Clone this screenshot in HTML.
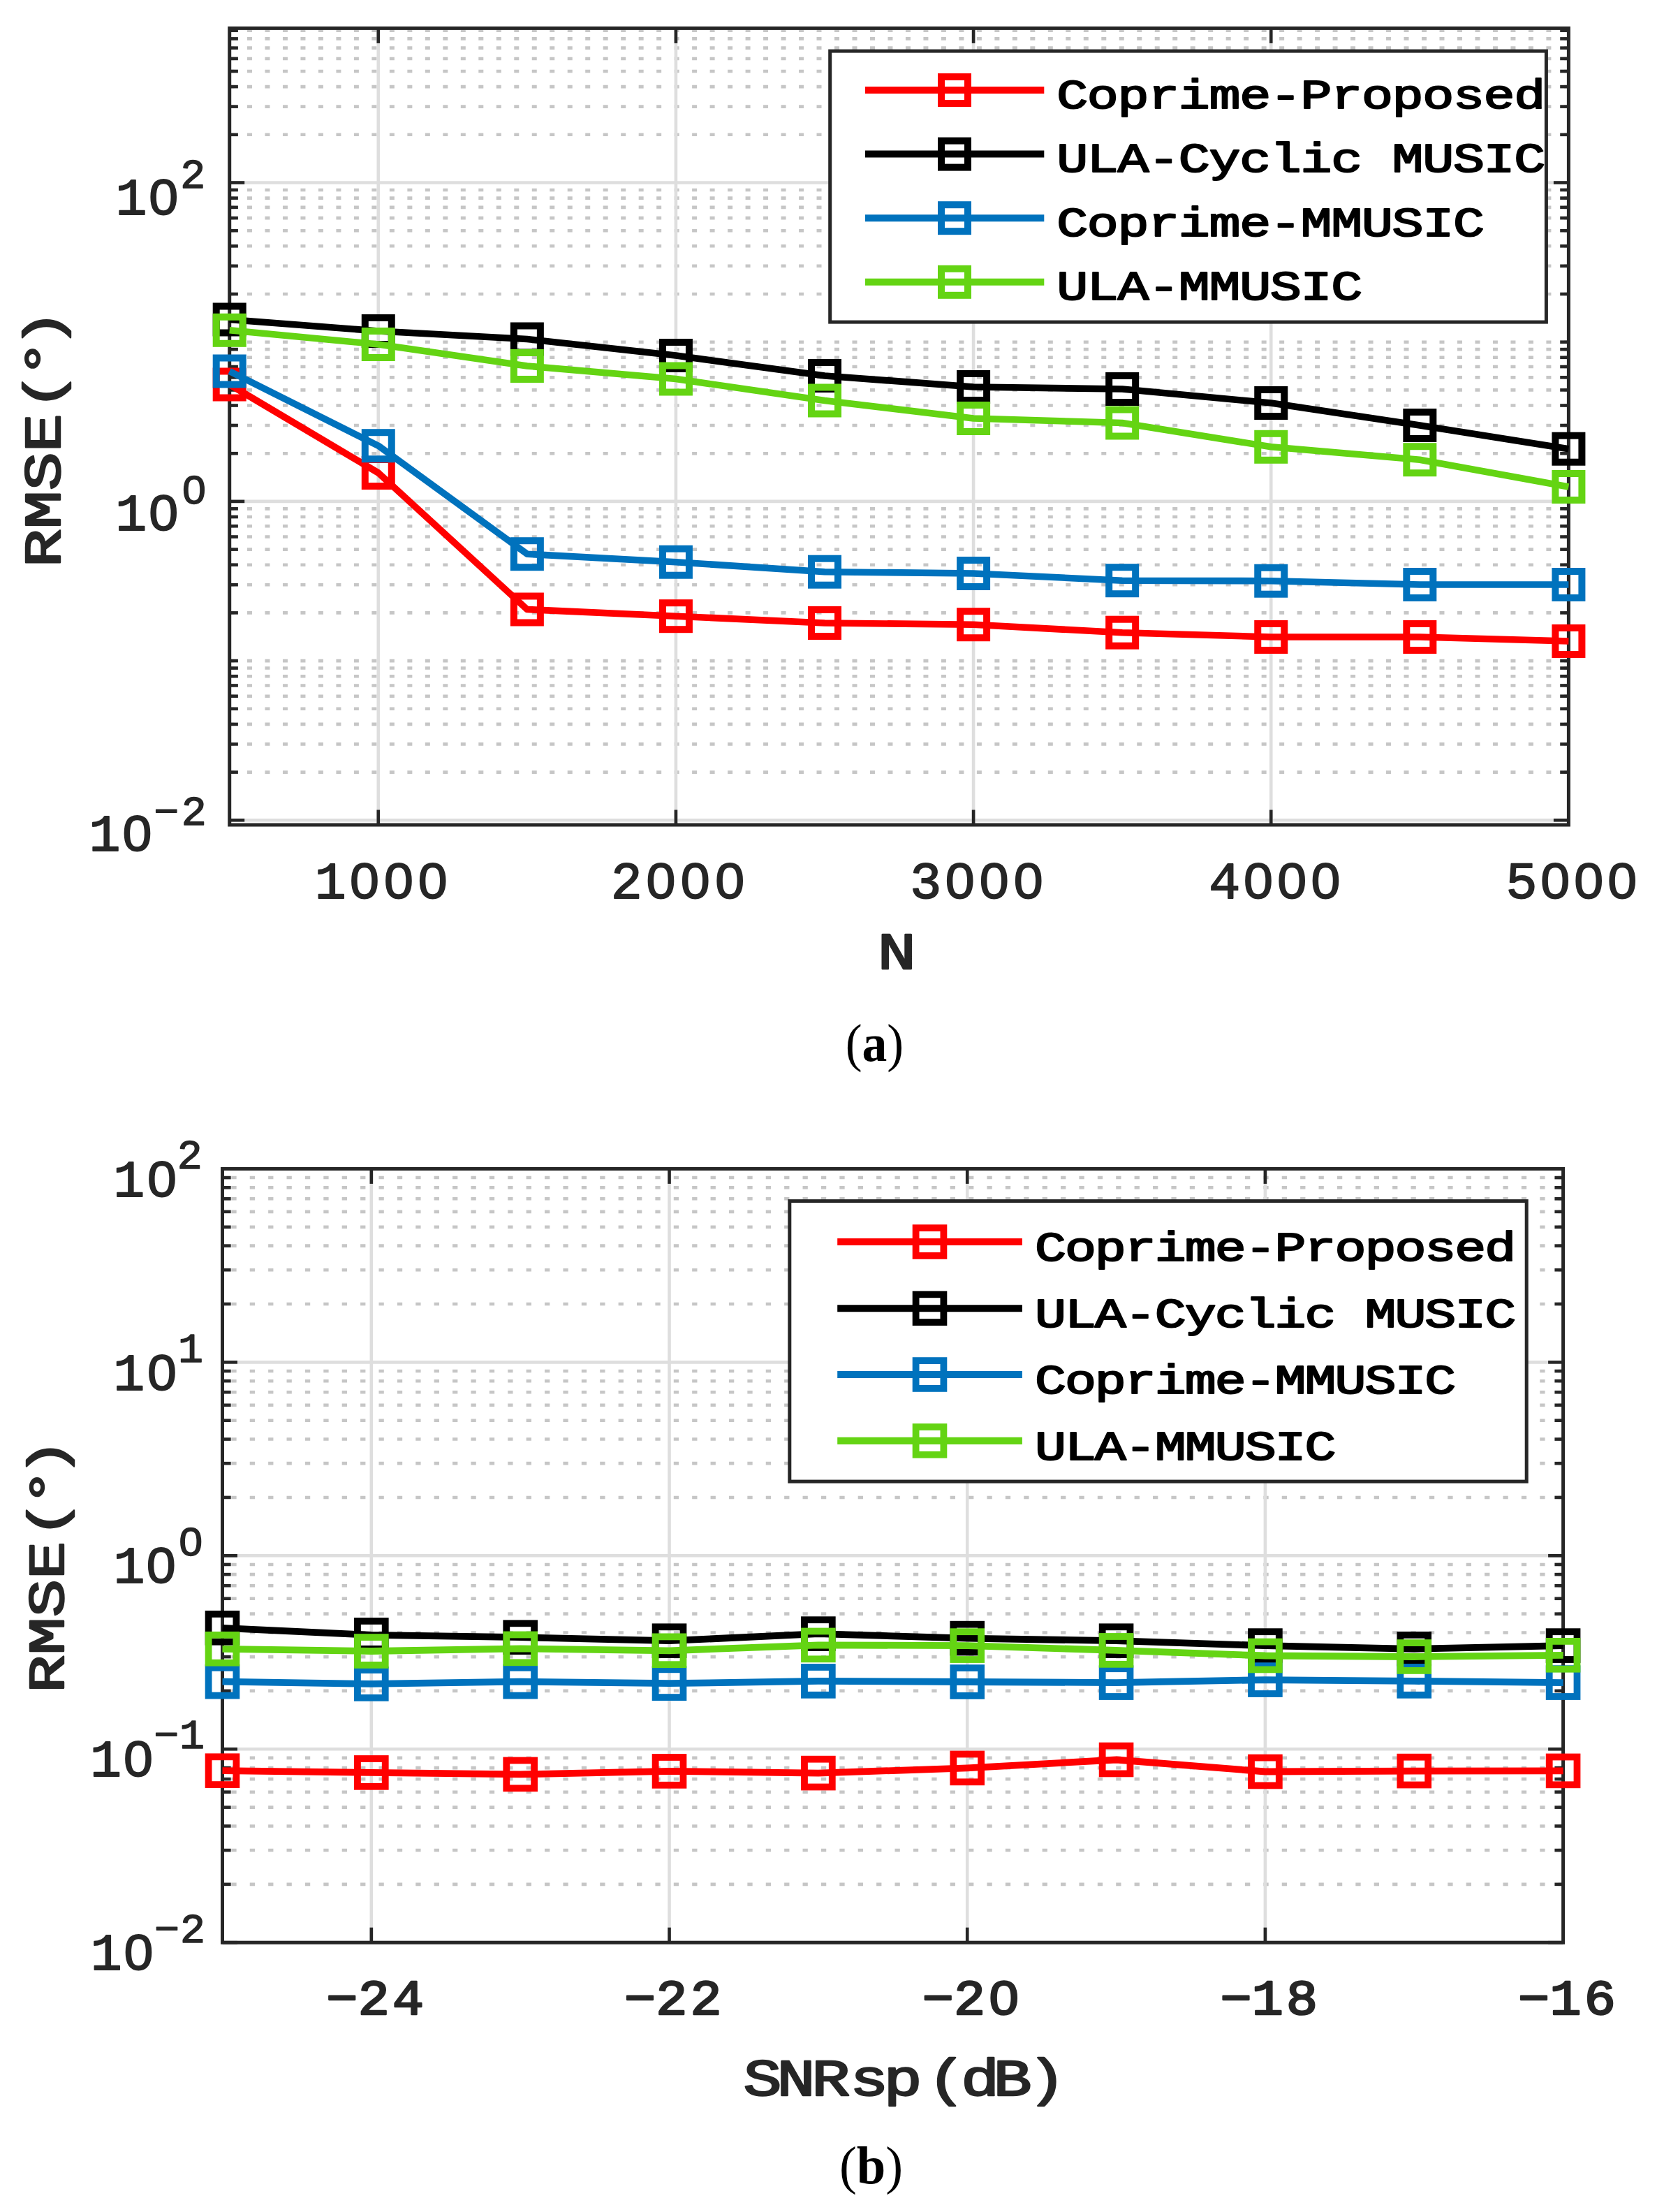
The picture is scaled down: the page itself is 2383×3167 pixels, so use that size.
<!DOCTYPE html>
<html lang="en"><head><meta charset="utf-8"><title>RMSE versus N and SNRsp</title>
<style>html,body{margin:0;padding:0;background:#fff}svg{display:block}text{white-space:pre}</style></head><body>
<svg width="2383" height="3167" viewBox="0 0 2383 3167">
<rect width="2383" height="3167" fill="#fff"/>
<g stroke="#c6c6c6" stroke-width="4.6" stroke-dasharray="7 18.485" fill="none">
<line x1="328.51" y1="1105.6" x2="2246.4" y2="1105.6"/>
<line x1="328.51" y1="1065.42" x2="2246.4" y2="1065.42"/>
<line x1="328.51" y1="1036.91" x2="2246.4" y2="1036.91"/>
<line x1="328.51" y1="1014.8" x2="2246.4" y2="1014.8"/>
<line x1="328.51" y1="996.73" x2="2246.4" y2="996.73"/>
<line x1="328.51" y1="981.45" x2="2246.4" y2="981.45"/>
<line x1="328.51" y1="968.21" x2="2246.4" y2="968.21"/>
<line x1="328.51" y1="956.54" x2="2246.4" y2="956.54"/>
<line x1="328.51" y1="946.1" x2="2246.4" y2="946.1"/>
<line x1="328.51" y1="877.4" x2="2246.4" y2="877.4"/>
<line x1="328.51" y1="837.22" x2="2246.4" y2="837.22"/>
<line x1="328.51" y1="808.71" x2="2246.4" y2="808.71"/>
<line x1="328.51" y1="786.6" x2="2246.4" y2="786.6"/>
<line x1="328.51" y1="768.53" x2="2246.4" y2="768.53"/>
<line x1="328.51" y1="753.25" x2="2246.4" y2="753.25"/>
<line x1="328.51" y1="740.01" x2="2246.4" y2="740.01"/>
<line x1="328.51" y1="728.34" x2="2246.4" y2="728.34"/>
<line x1="328.51" y1="649.2" x2="2246.4" y2="649.2"/>
<line x1="328.51" y1="609.02" x2="2246.4" y2="609.02"/>
<line x1="328.51" y1="580.51" x2="2246.4" y2="580.51"/>
<line x1="328.51" y1="558.4" x2="2246.4" y2="558.4"/>
<line x1="328.51" y1="540.33" x2="2246.4" y2="540.33"/>
<line x1="328.51" y1="525.05" x2="2246.4" y2="525.05"/>
<line x1="328.51" y1="511.81" x2="2246.4" y2="511.81"/>
<line x1="328.51" y1="500.14" x2="2246.4" y2="500.14"/>
<line x1="328.51" y1="489.7" x2="2246.4" y2="489.7"/>
<line x1="328.51" y1="421" x2="2246.4" y2="421"/>
<line x1="328.51" y1="380.82" x2="2246.4" y2="380.82"/>
<line x1="328.51" y1="352.31" x2="2246.4" y2="352.31"/>
<line x1="328.51" y1="330.2" x2="2246.4" y2="330.2"/>
<line x1="328.51" y1="312.13" x2="2246.4" y2="312.13"/>
<line x1="328.51" y1="296.85" x2="2246.4" y2="296.85"/>
<line x1="328.51" y1="283.61" x2="2246.4" y2="283.61"/>
<line x1="328.51" y1="271.94" x2="2246.4" y2="271.94"/>
<line x1="328.51" y1="192.8" x2="2246.4" y2="192.8"/>
<line x1="328.51" y1="152.62" x2="2246.4" y2="152.62"/>
<line x1="328.51" y1="124.11" x2="2246.4" y2="124.11"/>
<line x1="328.51" y1="102" x2="2246.4" y2="102"/>
<line x1="328.51" y1="83.93" x2="2246.4" y2="83.93"/>
<line x1="328.51" y1="68.65" x2="2246.4" y2="68.65"/>
<line x1="328.51" y1="55.41" x2="2246.4" y2="55.41"/>
<line x1="328.51" y1="43.74" x2="2246.4" y2="43.74"/>
</g>
<g stroke="#dedede" stroke-width="4.6" fill="none">
<line x1="541.78" y1="40.4" x2="541.78" y2="1181"/>
<line x1="967.93" y1="40.4" x2="967.93" y2="1181"/>
<line x1="1394.09" y1="40.4" x2="1394.09" y2="1181"/>
<line x1="1820.24" y1="40.4" x2="1820.24" y2="1181"/>
<line x1="328.7" y1="1174.3" x2="2246.4" y2="1174.3"/>
<line x1="328.7" y1="717.9" x2="2246.4" y2="717.9"/>
<line x1="328.7" y1="261.5" x2="2246.4" y2="261.5"/>
</g>
<g stroke="#262626" stroke-width="4.6" fill="none">
<line x1="328.7" y1="1105.6" x2="340.9" y2="1105.6"/>
<line x1="2246.4" y1="1105.6" x2="2234.2" y2="1105.6"/>
<line x1="328.7" y1="1065.42" x2="340.9" y2="1065.42"/>
<line x1="2246.4" y1="1065.42" x2="2234.2" y2="1065.42"/>
<line x1="328.7" y1="1036.91" x2="340.9" y2="1036.91"/>
<line x1="2246.4" y1="1036.91" x2="2234.2" y2="1036.91"/>
<line x1="328.7" y1="1014.8" x2="340.9" y2="1014.8"/>
<line x1="2246.4" y1="1014.8" x2="2234.2" y2="1014.8"/>
<line x1="328.7" y1="996.73" x2="340.9" y2="996.73"/>
<line x1="2246.4" y1="996.73" x2="2234.2" y2="996.73"/>
<line x1="328.7" y1="981.45" x2="340.9" y2="981.45"/>
<line x1="2246.4" y1="981.45" x2="2234.2" y2="981.45"/>
<line x1="328.7" y1="968.21" x2="340.9" y2="968.21"/>
<line x1="2246.4" y1="968.21" x2="2234.2" y2="968.21"/>
<line x1="328.7" y1="956.54" x2="340.9" y2="956.54"/>
<line x1="2246.4" y1="956.54" x2="2234.2" y2="956.54"/>
<line x1="328.7" y1="946.1" x2="340.9" y2="946.1"/>
<line x1="2246.4" y1="946.1" x2="2234.2" y2="946.1"/>
<line x1="328.7" y1="877.4" x2="340.9" y2="877.4"/>
<line x1="2246.4" y1="877.4" x2="2234.2" y2="877.4"/>
<line x1="328.7" y1="837.22" x2="340.9" y2="837.22"/>
<line x1="2246.4" y1="837.22" x2="2234.2" y2="837.22"/>
<line x1="328.7" y1="808.71" x2="340.9" y2="808.71"/>
<line x1="2246.4" y1="808.71" x2="2234.2" y2="808.71"/>
<line x1="328.7" y1="786.6" x2="340.9" y2="786.6"/>
<line x1="2246.4" y1="786.6" x2="2234.2" y2="786.6"/>
<line x1="328.7" y1="768.53" x2="340.9" y2="768.53"/>
<line x1="2246.4" y1="768.53" x2="2234.2" y2="768.53"/>
<line x1="328.7" y1="753.25" x2="340.9" y2="753.25"/>
<line x1="2246.4" y1="753.25" x2="2234.2" y2="753.25"/>
<line x1="328.7" y1="740.01" x2="340.9" y2="740.01"/>
<line x1="2246.4" y1="740.01" x2="2234.2" y2="740.01"/>
<line x1="328.7" y1="728.34" x2="340.9" y2="728.34"/>
<line x1="2246.4" y1="728.34" x2="2234.2" y2="728.34"/>
<line x1="328.7" y1="649.2" x2="340.9" y2="649.2"/>
<line x1="2246.4" y1="649.2" x2="2234.2" y2="649.2"/>
<line x1="328.7" y1="609.02" x2="340.9" y2="609.02"/>
<line x1="2246.4" y1="609.02" x2="2234.2" y2="609.02"/>
<line x1="328.7" y1="580.51" x2="340.9" y2="580.51"/>
<line x1="2246.4" y1="580.51" x2="2234.2" y2="580.51"/>
<line x1="328.7" y1="558.4" x2="340.9" y2="558.4"/>
<line x1="2246.4" y1="558.4" x2="2234.2" y2="558.4"/>
<line x1="328.7" y1="540.33" x2="340.9" y2="540.33"/>
<line x1="2246.4" y1="540.33" x2="2234.2" y2="540.33"/>
<line x1="328.7" y1="525.05" x2="340.9" y2="525.05"/>
<line x1="2246.4" y1="525.05" x2="2234.2" y2="525.05"/>
<line x1="328.7" y1="511.81" x2="340.9" y2="511.81"/>
<line x1="2246.4" y1="511.81" x2="2234.2" y2="511.81"/>
<line x1="328.7" y1="500.14" x2="340.9" y2="500.14"/>
<line x1="2246.4" y1="500.14" x2="2234.2" y2="500.14"/>
<line x1="328.7" y1="489.7" x2="340.9" y2="489.7"/>
<line x1="2246.4" y1="489.7" x2="2234.2" y2="489.7"/>
<line x1="328.7" y1="421" x2="340.9" y2="421"/>
<line x1="2246.4" y1="421" x2="2234.2" y2="421"/>
<line x1="328.7" y1="380.82" x2="340.9" y2="380.82"/>
<line x1="2246.4" y1="380.82" x2="2234.2" y2="380.82"/>
<line x1="328.7" y1="352.31" x2="340.9" y2="352.31"/>
<line x1="2246.4" y1="352.31" x2="2234.2" y2="352.31"/>
<line x1="328.7" y1="330.2" x2="340.9" y2="330.2"/>
<line x1="2246.4" y1="330.2" x2="2234.2" y2="330.2"/>
<line x1="328.7" y1="312.13" x2="340.9" y2="312.13"/>
<line x1="2246.4" y1="312.13" x2="2234.2" y2="312.13"/>
<line x1="328.7" y1="296.85" x2="340.9" y2="296.85"/>
<line x1="2246.4" y1="296.85" x2="2234.2" y2="296.85"/>
<line x1="328.7" y1="283.61" x2="340.9" y2="283.61"/>
<line x1="2246.4" y1="283.61" x2="2234.2" y2="283.61"/>
<line x1="328.7" y1="271.94" x2="340.9" y2="271.94"/>
<line x1="2246.4" y1="271.94" x2="2234.2" y2="271.94"/>
<line x1="328.7" y1="192.8" x2="340.9" y2="192.8"/>
<line x1="2246.4" y1="192.8" x2="2234.2" y2="192.8"/>
<line x1="328.7" y1="152.62" x2="340.9" y2="152.62"/>
<line x1="2246.4" y1="152.62" x2="2234.2" y2="152.62"/>
<line x1="328.7" y1="124.11" x2="340.9" y2="124.11"/>
<line x1="2246.4" y1="124.11" x2="2234.2" y2="124.11"/>
<line x1="328.7" y1="102" x2="340.9" y2="102"/>
<line x1="2246.4" y1="102" x2="2234.2" y2="102"/>
<line x1="328.7" y1="83.93" x2="340.9" y2="83.93"/>
<line x1="2246.4" y1="83.93" x2="2234.2" y2="83.93"/>
<line x1="328.7" y1="68.65" x2="340.9" y2="68.65"/>
<line x1="2246.4" y1="68.65" x2="2234.2" y2="68.65"/>
<line x1="328.7" y1="55.41" x2="340.9" y2="55.41"/>
<line x1="2246.4" y1="55.41" x2="2234.2" y2="55.41"/>
<line x1="328.7" y1="43.74" x2="340.9" y2="43.74"/>
<line x1="2246.4" y1="43.74" x2="2234.2" y2="43.74"/>
<line x1="328.7" y1="1174.3" x2="350.2" y2="1174.3"/>
<line x1="2246.4" y1="1174.3" x2="2224.9" y2="1174.3"/>
<line x1="328.7" y1="717.9" x2="350.2" y2="717.9"/>
<line x1="2246.4" y1="717.9" x2="2224.9" y2="717.9"/>
<line x1="328.7" y1="261.5" x2="350.2" y2="261.5"/>
<line x1="2246.4" y1="261.5" x2="2224.9" y2="261.5"/>
<line x1="541.78" y1="1181" x2="541.78" y2="1159.5"/>
<line x1="541.78" y1="40.4" x2="541.78" y2="61.9"/>
<line x1="967.93" y1="1181" x2="967.93" y2="1159.5"/>
<line x1="967.93" y1="40.4" x2="967.93" y2="61.9"/>
<line x1="1394.09" y1="1181" x2="1394.09" y2="1159.5"/>
<line x1="1394.09" y1="40.4" x2="1394.09" y2="61.9"/>
<line x1="1820.24" y1="1181" x2="1820.24" y2="1159.5"/>
<line x1="1820.24" y1="40.4" x2="1820.24" y2="61.9"/>
</g>
<rect x="328.7" y="40.4" width="1917.7" height="1140.6" fill="none" stroke="#262626" stroke-width="5"/>
<polyline points="328.7,550.5 541.78,677 754.86,872.5 967.93,882.2 1181.01,892 1394.09,894.2 1607.17,905.7 1820.24,912 2033.32,912 2246.4,918" fill="none" stroke="#ff0000" stroke-width="9.6" stroke-linejoin="round"/>
<g fill="none" stroke="#ff0000" stroke-width="10">
<rect x="309.7" y="531.5" width="38" height="38"/>
<rect x="522.78" y="658" width="38" height="38"/>
<rect x="735.86" y="853.5" width="38" height="38"/>
<rect x="948.93" y="863.2" width="38" height="38"/>
<rect x="1162.01" y="873" width="38" height="38"/>
<rect x="1375.09" y="875.2" width="38" height="38"/>
<rect x="1588.17" y="886.7" width="38" height="38"/>
<rect x="1801.24" y="893" width="38" height="38"/>
<rect x="2014.32" y="893" width="38" height="38"/>
<rect x="2227.4" y="899" width="38" height="38"/>
</g>
<polyline points="328.7,457.5 541.78,474 754.86,485.5 967.93,509 1181.01,538 1394.09,554 1607.17,557 1820.24,577 2033.32,609 2246.4,642.7" fill="none" stroke="#000000" stroke-width="9.6" stroke-linejoin="round"/>
<g fill="none" stroke="#000000" stroke-width="10">
<rect x="309.7" y="438.5" width="38" height="38"/>
<rect x="522.78" y="455" width="38" height="38"/>
<rect x="735.86" y="466.5" width="38" height="38"/>
<rect x="948.93" y="490" width="38" height="38"/>
<rect x="1162.01" y="519" width="38" height="38"/>
<rect x="1375.09" y="535" width="38" height="38"/>
<rect x="1588.17" y="538" width="38" height="38"/>
<rect x="1801.24" y="558" width="38" height="38"/>
<rect x="2014.32" y="590" width="38" height="38"/>
<rect x="2227.4" y="623.7" width="38" height="38"/>
</g>
<polyline points="328.7,531.5 541.78,638.2 754.86,793.2 967.93,804.7 1181.01,818.7 1394.09,821 1607.17,831.2 1820.24,831.7 2033.32,837 2246.4,837" fill="none" stroke="#0072bd" stroke-width="9.6" stroke-linejoin="round"/>
<g fill="none" stroke="#0072bd" stroke-width="10">
<rect x="309.7" y="512.5" width="38" height="38"/>
<rect x="522.78" y="619.2" width="38" height="38"/>
<rect x="735.86" y="774.2" width="38" height="38"/>
<rect x="948.93" y="785.7" width="38" height="38"/>
<rect x="1162.01" y="799.7" width="38" height="38"/>
<rect x="1375.09" y="802" width="38" height="38"/>
<rect x="1588.17" y="812.2" width="38" height="38"/>
<rect x="1801.24" y="812.7" width="38" height="38"/>
<rect x="2014.32" y="818" width="38" height="38"/>
<rect x="2227.4" y="818" width="38" height="38"/>
</g>
<polyline points="328.7,472.8 541.78,493 754.86,524 967.93,542.5 1181.01,573.5 1394.09,599 1607.17,605.5 1820.24,639.8 2033.32,658.2 2246.4,697" fill="none" stroke="#64d413" stroke-width="9.6" stroke-linejoin="round"/>
<g fill="none" stroke="#64d413" stroke-width="10">
<rect x="309.7" y="453.8" width="38" height="38"/>
<rect x="522.78" y="474" width="38" height="38"/>
<rect x="735.86" y="505" width="38" height="38"/>
<rect x="948.93" y="523.5" width="38" height="38"/>
<rect x="1162.01" y="554.5" width="38" height="38"/>
<rect x="1375.09" y="580" width="38" height="38"/>
<rect x="1588.17" y="586.5" width="38" height="38"/>
<rect x="1801.24" y="620.8" width="38" height="38"/>
<rect x="2014.32" y="639.2" width="38" height="38"/>
<rect x="2227.4" y="678" width="38" height="38"/>
</g>
<rect x="1188.7" y="73.1" width="1025.7" height="388" fill="#fff" stroke="#262626" stroke-width="5"/>
<line x1="1238.9" y1="129" x2="1495.3" y2="129" stroke="#ff0000" stroke-width="10" />
<rect x="1348" y="110" width="38" height="38" fill="none" stroke="#ff0000" stroke-width="10"/>
<g transform="translate(1513.16 154.6) scale(1 0.79)"><text style="font-family:'Liberation Mono',monospace;font-size:75px;fill:#000;letter-spacing:-1.33px;stroke:#000;stroke-width:2.6;stroke-linejoin:round;" xml:space="preserve">Coprime-Proposed</text>
</g>
<line x1="1238.9" y1="220.6" x2="1495.3" y2="220.6" stroke="#000000" stroke-width="10" />
<rect x="1348" y="201.6" width="38" height="38" fill="none" stroke="#000000" stroke-width="10"/>
<g transform="translate(1513.16 246.2) scale(1 0.79)"><text style="font-family:'Liberation Mono',monospace;font-size:75px;fill:#000;letter-spacing:-1.33px;stroke:#000;stroke-width:2.6;stroke-linejoin:round;" xml:space="preserve">ULA-Cyclic MUSIC</text>
</g>
<line x1="1238.9" y1="312.2" x2="1495.3" y2="312.2" stroke="#0072bd" stroke-width="10" />
<rect x="1348" y="293.2" width="38" height="38" fill="none" stroke="#0072bd" stroke-width="10"/>
<g transform="translate(1513.16 337.8) scale(1 0.79)"><text style="font-family:'Liberation Mono',monospace;font-size:75px;fill:#000;letter-spacing:-1.33px;stroke:#000;stroke-width:2.6;stroke-linejoin:round;" xml:space="preserve">Coprime-MMUSIC</text>
</g>
<line x1="1238.9" y1="403.8" x2="1495.3" y2="403.8" stroke="#64d413" stroke-width="10" />
<rect x="1348" y="384.8" width="38" height="38" fill="none" stroke="#64d413" stroke-width="10"/>
<g transform="translate(1513.16 429.4) scale(1 0.79)"><text style="font-family:'Liberation Mono',monospace;font-size:75px;fill:#000;letter-spacing:-1.33px;stroke:#000;stroke-width:2.6;stroke-linejoin:round;" xml:space="preserve">ULA-MMUSIC</text>
</g>
<g stroke="#c6c6c6" stroke-width="4.6" stroke-dasharray="7.3 19.093" fill="none">
<line x1="331.35" y1="2697.83" x2="2238.6" y2="2697.83"/>
<line x1="331.35" y1="2649.06" x2="2238.6" y2="2649.06"/>
<line x1="331.35" y1="2614.46" x2="2238.6" y2="2614.46"/>
<line x1="331.35" y1="2587.62" x2="2238.6" y2="2587.62"/>
<line x1="331.35" y1="2565.69" x2="2238.6" y2="2565.69"/>
<line x1="331.35" y1="2547.15" x2="2238.6" y2="2547.15"/>
<line x1="331.35" y1="2531.09" x2="2238.6" y2="2531.09"/>
<line x1="331.35" y1="2516.92" x2="2238.6" y2="2516.92"/>
<line x1="331.35" y1="2420.88" x2="2238.6" y2="2420.88"/>
<line x1="331.35" y1="2372.11" x2="2238.6" y2="2372.11"/>
<line x1="331.35" y1="2337.51" x2="2238.6" y2="2337.51"/>
<line x1="331.35" y1="2310.67" x2="2238.6" y2="2310.67"/>
<line x1="331.35" y1="2288.74" x2="2238.6" y2="2288.74"/>
<line x1="331.35" y1="2270.2" x2="2238.6" y2="2270.2"/>
<line x1="331.35" y1="2254.14" x2="2238.6" y2="2254.14"/>
<line x1="331.35" y1="2239.97" x2="2238.6" y2="2239.97"/>
<line x1="331.35" y1="2143.93" x2="2238.6" y2="2143.93"/>
<line x1="331.35" y1="2095.16" x2="2238.6" y2="2095.16"/>
<line x1="331.35" y1="2060.56" x2="2238.6" y2="2060.56"/>
<line x1="331.35" y1="2033.72" x2="2238.6" y2="2033.72"/>
<line x1="331.35" y1="2011.79" x2="2238.6" y2="2011.79"/>
<line x1="331.35" y1="1993.25" x2="2238.6" y2="1993.25"/>
<line x1="331.35" y1="1977.19" x2="2238.6" y2="1977.19"/>
<line x1="331.35" y1="1963.02" x2="2238.6" y2="1963.02"/>
<line x1="331.35" y1="1866.98" x2="2238.6" y2="1866.98"/>
<line x1="331.35" y1="1818.21" x2="2238.6" y2="1818.21"/>
<line x1="331.35" y1="1783.61" x2="2238.6" y2="1783.61"/>
<line x1="331.35" y1="1756.77" x2="2238.6" y2="1756.77"/>
<line x1="331.35" y1="1734.84" x2="2238.6" y2="1734.84"/>
<line x1="331.35" y1="1716.3" x2="2238.6" y2="1716.3"/>
<line x1="331.35" y1="1700.24" x2="2238.6" y2="1700.24"/>
<line x1="331.35" y1="1686.07" x2="2238.6" y2="1686.07"/>
</g>
<g stroke="#dedede" stroke-width="4.6" fill="none">
<line x1="531.84" y1="1673.4" x2="531.84" y2="2781.2"/>
<line x1="958.53" y1="1673.4" x2="958.53" y2="2781.2"/>
<line x1="1385.22" y1="1673.4" x2="1385.22" y2="2781.2"/>
<line x1="1811.91" y1="1673.4" x2="1811.91" y2="2781.2"/>
<line x1="318.5" y1="2781.2" x2="2238.6" y2="2781.2"/>
<line x1="318.5" y1="2504.25" x2="2238.6" y2="2504.25"/>
<line x1="318.5" y1="2227.3" x2="2238.6" y2="2227.3"/>
<line x1="318.5" y1="1950.35" x2="2238.6" y2="1950.35"/>
</g>
<g stroke="#262626" stroke-width="4.6" fill="none">
<line x1="318.5" y1="2697.83" x2="330.7" y2="2697.83"/>
<line x1="2238.6" y1="2697.83" x2="2226.4" y2="2697.83"/>
<line x1="318.5" y1="2649.06" x2="330.7" y2="2649.06"/>
<line x1="2238.6" y1="2649.06" x2="2226.4" y2="2649.06"/>
<line x1="318.5" y1="2614.46" x2="330.7" y2="2614.46"/>
<line x1="2238.6" y1="2614.46" x2="2226.4" y2="2614.46"/>
<line x1="318.5" y1="2587.62" x2="330.7" y2="2587.62"/>
<line x1="2238.6" y1="2587.62" x2="2226.4" y2="2587.62"/>
<line x1="318.5" y1="2565.69" x2="330.7" y2="2565.69"/>
<line x1="2238.6" y1="2565.69" x2="2226.4" y2="2565.69"/>
<line x1="318.5" y1="2547.15" x2="330.7" y2="2547.15"/>
<line x1="2238.6" y1="2547.15" x2="2226.4" y2="2547.15"/>
<line x1="318.5" y1="2531.09" x2="330.7" y2="2531.09"/>
<line x1="2238.6" y1="2531.09" x2="2226.4" y2="2531.09"/>
<line x1="318.5" y1="2516.92" x2="330.7" y2="2516.92"/>
<line x1="2238.6" y1="2516.92" x2="2226.4" y2="2516.92"/>
<line x1="318.5" y1="2420.88" x2="330.7" y2="2420.88"/>
<line x1="2238.6" y1="2420.88" x2="2226.4" y2="2420.88"/>
<line x1="318.5" y1="2372.11" x2="330.7" y2="2372.11"/>
<line x1="2238.6" y1="2372.11" x2="2226.4" y2="2372.11"/>
<line x1="318.5" y1="2337.51" x2="330.7" y2="2337.51"/>
<line x1="2238.6" y1="2337.51" x2="2226.4" y2="2337.51"/>
<line x1="318.5" y1="2310.67" x2="330.7" y2="2310.67"/>
<line x1="2238.6" y1="2310.67" x2="2226.4" y2="2310.67"/>
<line x1="318.5" y1="2288.74" x2="330.7" y2="2288.74"/>
<line x1="2238.6" y1="2288.74" x2="2226.4" y2="2288.74"/>
<line x1="318.5" y1="2270.2" x2="330.7" y2="2270.2"/>
<line x1="2238.6" y1="2270.2" x2="2226.4" y2="2270.2"/>
<line x1="318.5" y1="2254.14" x2="330.7" y2="2254.14"/>
<line x1="2238.6" y1="2254.14" x2="2226.4" y2="2254.14"/>
<line x1="318.5" y1="2239.97" x2="330.7" y2="2239.97"/>
<line x1="2238.6" y1="2239.97" x2="2226.4" y2="2239.97"/>
<line x1="318.5" y1="2143.93" x2="330.7" y2="2143.93"/>
<line x1="2238.6" y1="2143.93" x2="2226.4" y2="2143.93"/>
<line x1="318.5" y1="2095.16" x2="330.7" y2="2095.16"/>
<line x1="2238.6" y1="2095.16" x2="2226.4" y2="2095.16"/>
<line x1="318.5" y1="2060.56" x2="330.7" y2="2060.56"/>
<line x1="2238.6" y1="2060.56" x2="2226.4" y2="2060.56"/>
<line x1="318.5" y1="2033.72" x2="330.7" y2="2033.72"/>
<line x1="2238.6" y1="2033.72" x2="2226.4" y2="2033.72"/>
<line x1="318.5" y1="2011.79" x2="330.7" y2="2011.79"/>
<line x1="2238.6" y1="2011.79" x2="2226.4" y2="2011.79"/>
<line x1="318.5" y1="1993.25" x2="330.7" y2="1993.25"/>
<line x1="2238.6" y1="1993.25" x2="2226.4" y2="1993.25"/>
<line x1="318.5" y1="1977.19" x2="330.7" y2="1977.19"/>
<line x1="2238.6" y1="1977.19" x2="2226.4" y2="1977.19"/>
<line x1="318.5" y1="1963.02" x2="330.7" y2="1963.02"/>
<line x1="2238.6" y1="1963.02" x2="2226.4" y2="1963.02"/>
<line x1="318.5" y1="1866.98" x2="330.7" y2="1866.98"/>
<line x1="2238.6" y1="1866.98" x2="2226.4" y2="1866.98"/>
<line x1="318.5" y1="1818.21" x2="330.7" y2="1818.21"/>
<line x1="2238.6" y1="1818.21" x2="2226.4" y2="1818.21"/>
<line x1="318.5" y1="1783.61" x2="330.7" y2="1783.61"/>
<line x1="2238.6" y1="1783.61" x2="2226.4" y2="1783.61"/>
<line x1="318.5" y1="1756.77" x2="330.7" y2="1756.77"/>
<line x1="2238.6" y1="1756.77" x2="2226.4" y2="1756.77"/>
<line x1="318.5" y1="1734.84" x2="330.7" y2="1734.84"/>
<line x1="2238.6" y1="1734.84" x2="2226.4" y2="1734.84"/>
<line x1="318.5" y1="1716.3" x2="330.7" y2="1716.3"/>
<line x1="2238.6" y1="1716.3" x2="2226.4" y2="1716.3"/>
<line x1="318.5" y1="1700.24" x2="330.7" y2="1700.24"/>
<line x1="2238.6" y1="1700.24" x2="2226.4" y2="1700.24"/>
<line x1="318.5" y1="1686.07" x2="330.7" y2="1686.07"/>
<line x1="2238.6" y1="1686.07" x2="2226.4" y2="1686.07"/>
<line x1="318.5" y1="2781.2" x2="340" y2="2781.2"/>
<line x1="2238.6" y1="2781.2" x2="2217.1" y2="2781.2"/>
<line x1="318.5" y1="2504.25" x2="340" y2="2504.25"/>
<line x1="2238.6" y1="2504.25" x2="2217.1" y2="2504.25"/>
<line x1="318.5" y1="2227.3" x2="340" y2="2227.3"/>
<line x1="2238.6" y1="2227.3" x2="2217.1" y2="2227.3"/>
<line x1="318.5" y1="1950.35" x2="340" y2="1950.35"/>
<line x1="2238.6" y1="1950.35" x2="2217.1" y2="1950.35"/>
<line x1="531.84" y1="2781.2" x2="531.84" y2="2759.7"/>
<line x1="531.84" y1="1673.4" x2="531.84" y2="1694.9"/>
<line x1="958.53" y1="2781.2" x2="958.53" y2="2759.7"/>
<line x1="958.53" y1="1673.4" x2="958.53" y2="1694.9"/>
<line x1="1385.22" y1="2781.2" x2="1385.22" y2="2759.7"/>
<line x1="1385.22" y1="1673.4" x2="1385.22" y2="1694.9"/>
<line x1="1811.91" y1="2781.2" x2="1811.91" y2="2759.7"/>
<line x1="1811.91" y1="1673.4" x2="1811.91" y2="1694.9"/>
</g>
<rect x="318.5" y="1673.4" width="1920.1" height="1107.8" fill="none" stroke="#262626" stroke-width="5"/>
<polyline points="318.5,2535.2 531.84,2537.9 745.19,2540.4 958.53,2535.9 1171.88,2538.6 1385.22,2531.4 1598.57,2519.5 1811.91,2536.5 2025.26,2535.6 2238.6,2535.4" fill="none" stroke="#ff0000" stroke-width="9.8" stroke-linejoin="round"/>
<g fill="none" stroke="#ff0000" stroke-width="9.8">
<rect x="298.6" y="2515.3" width="39.8" height="39.8"/>
<rect x="511.94" y="2518" width="39.8" height="39.8"/>
<rect x="725.29" y="2520.5" width="39.8" height="39.8"/>
<rect x="938.63" y="2516" width="39.8" height="39.8"/>
<rect x="1151.98" y="2518.7" width="39.8" height="39.8"/>
<rect x="1365.32" y="2511.5" width="39.8" height="39.8"/>
<rect x="1578.67" y="2499.6" width="39.8" height="39.8"/>
<rect x="1792.01" y="2516.6" width="39.8" height="39.8"/>
<rect x="2005.36" y="2515.7" width="39.8" height="39.8"/>
<rect x="2218.7" y="2515.5" width="39.8" height="39.8"/>
</g>
<polyline points="318.5,2330.8 531.84,2340.9 745.19,2344.2 958.53,2349.2 1171.88,2339.1 1385.22,2345.6 1598.57,2349.2 1811.91,2356.1 2025.26,2360.8 2238.6,2356.1" fill="none" stroke="#000000" stroke-width="9.8" stroke-linejoin="round"/>
<g fill="none" stroke="#000000" stroke-width="9.8">
<rect x="298.6" y="2310.9" width="39.8" height="39.8"/>
<rect x="511.94" y="2321" width="39.8" height="39.8"/>
<rect x="725.29" y="2324.3" width="39.8" height="39.8"/>
<rect x="938.63" y="2329.3" width="39.8" height="39.8"/>
<rect x="1151.98" y="2319.2" width="39.8" height="39.8"/>
<rect x="1365.32" y="2325.7" width="39.8" height="39.8"/>
<rect x="1578.67" y="2329.3" width="39.8" height="39.8"/>
<rect x="1792.01" y="2336.2" width="39.8" height="39.8"/>
<rect x="2005.36" y="2340.9" width="39.8" height="39.8"/>
<rect x="2218.7" y="2336.2" width="39.8" height="39.8"/>
</g>
<polyline points="318.5,2407.7 531.84,2410.9 745.19,2407.7 958.53,2410.2 1171.88,2406.9 1385.22,2408 1598.57,2409.1 1811.91,2405.1 2025.26,2406.9 2238.6,2409.1" fill="none" stroke="#0072bd" stroke-width="9.8" stroke-linejoin="round"/>
<g fill="none" stroke="#0072bd" stroke-width="9.8">
<rect x="298.6" y="2387.8" width="39.8" height="39.8"/>
<rect x="511.94" y="2391" width="39.8" height="39.8"/>
<rect x="725.29" y="2387.8" width="39.8" height="39.8"/>
<rect x="938.63" y="2390.3" width="39.8" height="39.8"/>
<rect x="1151.98" y="2387" width="39.8" height="39.8"/>
<rect x="1365.32" y="2388.1" width="39.8" height="39.8"/>
<rect x="1578.67" y="2389.2" width="39.8" height="39.8"/>
<rect x="1792.01" y="2385.2" width="39.8" height="39.8"/>
<rect x="2005.36" y="2387" width="39.8" height="39.8"/>
<rect x="2218.7" y="2389.2" width="39.8" height="39.8"/>
</g>
<polyline points="318.5,2360.8 531.84,2364 745.19,2360.4 958.53,2363.3 1171.88,2355.4 1385.22,2356.1 1598.57,2362.9 1811.91,2370.5 2025.26,2372 2238.6,2369.8" fill="none" stroke="#64d413" stroke-width="9.8" stroke-linejoin="round"/>
<g fill="none" stroke="#64d413" stroke-width="9.8">
<rect x="298.6" y="2340.9" width="39.8" height="39.8"/>
<rect x="511.94" y="2344.1" width="39.8" height="39.8"/>
<rect x="725.29" y="2340.5" width="39.8" height="39.8"/>
<rect x="938.63" y="2343.4" width="39.8" height="39.8"/>
<rect x="1151.98" y="2335.5" width="39.8" height="39.8"/>
<rect x="1365.32" y="2336.2" width="39.8" height="39.8"/>
<rect x="1578.67" y="2343" width="39.8" height="39.8"/>
<rect x="1792.01" y="2350.6" width="39.8" height="39.8"/>
<rect x="2005.36" y="2352.1" width="39.8" height="39.8"/>
<rect x="2218.7" y="2349.9" width="39.8" height="39.8"/>
</g>
<rect x="1130.8" y="1719.6" width="1055.4" height="401.5" fill="#fff" stroke="#262626" stroke-width="5"/>
<line x1="1199.2" y1="1778" x2="1463.9" y2="1778" stroke="#ff0000" stroke-width="10.1" />
<rect x="1311.6" y="1758.1" width="39.8" height="39.8" fill="none" stroke="#ff0000" stroke-width="9.8"/>
<g transform="translate(1481.96 1804.7) scale(1 0.79)"><text style="font-family:'Liberation Mono',monospace;font-size:75px;fill:#000;letter-spacing:-2.05px;stroke:#000;stroke-width:2.6;stroke-linejoin:round;" xml:space="preserve">Coprime-Proposed</text>
</g>
<line x1="1199.2" y1="1873.2" x2="1463.9" y2="1873.2" stroke="#000000" stroke-width="10.1" />
<rect x="1311.6" y="1853.3" width="39.8" height="39.8" fill="none" stroke="#000000" stroke-width="9.8"/>
<g transform="translate(1481.96 1899.9) scale(1 0.79)"><text style="font-family:'Liberation Mono',monospace;font-size:75px;fill:#000;letter-spacing:-2.05px;stroke:#000;stroke-width:2.6;stroke-linejoin:round;" xml:space="preserve">ULA-Cyclic MUSIC</text>
</g>
<line x1="1199.2" y1="1968" x2="1463.9" y2="1968" stroke="#0072bd" stroke-width="10.1" />
<rect x="1311.6" y="1948.1" width="39.8" height="39.8" fill="none" stroke="#0072bd" stroke-width="9.8"/>
<g transform="translate(1481.96 1994.7) scale(1 0.79)"><text style="font-family:'Liberation Mono',monospace;font-size:75px;fill:#000;letter-spacing:-2.05px;stroke:#000;stroke-width:2.6;stroke-linejoin:round;" xml:space="preserve">Coprime-MMUSIC</text>
</g>
<line x1="1199.2" y1="2062.9" x2="1463.9" y2="2062.9" stroke="#64d413" stroke-width="10.1" />
<rect x="1311.6" y="2043" width="39.8" height="39.8" fill="none" stroke="#64d413" stroke-width="9.8"/>
<g transform="translate(1481.96 2089.6) scale(1 0.79)"><text style="font-family:'Liberation Mono',monospace;font-size:75px;fill:#000;letter-spacing:-2.05px;stroke:#000;stroke-width:2.6;stroke-linejoin:round;" xml:space="preserve">ULA-MMUSIC</text>
</g>
<g transform="translate(165.48 307.1) scale(1 0.98)"><text style="font-family:'Liberation Mono',monospace;font-size:75px;fill:#262626;letter-spacing:1.32px;stroke:#262626;stroke-width:1.8;stroke-linejoin:round;" xml:space="preserve">10</text>
<rect x="61.52" y="-32.41" width="14.65" height="15.01" fill="#fff"/>
</g>
<g transform="translate(258.23 269.05) scale(1 0.98)"><text style="font-family:'Liberation Mono',monospace;font-size:60px;fill:#262626;letter-spacing:0px;stroke:#262626;stroke-width:1.5;stroke-linejoin:round;" xml:space="preserve">2</text>
</g>
<g transform="translate(165.28 759.1) scale(1 0.98)"><text style="font-family:'Liberation Mono',monospace;font-size:75px;fill:#262626;letter-spacing:1.52px;stroke:#262626;stroke-width:1.8;stroke-linejoin:round;" xml:space="preserve">10</text>
<rect x="61.72" y="-32.41" width="14.65" height="15.01" fill="#fff"/>
</g>
<g transform="translate(259.92 721.35) scale(1 0.98)"><text style="font-family:'Liberation Mono',monospace;font-size:60px;fill:#262626;letter-spacing:0px;stroke:#262626;stroke-width:1.5;stroke-linejoin:round;" xml:space="preserve">0</text>
<rect x="12.16" y="-25.93" width="11.72" height="12.01" fill="#fff"/>
</g>
<g transform="translate(127.38 1218.2) scale(1 0.98)"><text style="font-family:'Liberation Mono',monospace;font-size:75px;fill:#262626;letter-spacing:1.62px;stroke:#262626;stroke-width:1.8;stroke-linejoin:round;" xml:space="preserve">10</text>
<rect x="61.82" y="-32.41" width="14.65" height="15.01" fill="#fff"/>
</g>
<g transform="translate(220.32 1180.5) scale(1 0.98)"><text style="font-family:'Liberation Mono',monospace;font-size:60px;fill:#262626;letter-spacing:3.36px;stroke:#262626;stroke-width:1.5;stroke-linejoin:round;" xml:space="preserve">−2</text>
</g>
<g transform="translate(450.78 1286.1) scale(1 0.98)"><text style="font-family:'Liberation Mono',monospace;font-size:75px;fill:#262626;letter-spacing:3.83px;stroke:#262626;stroke-width:1.8;stroke-linejoin:round;" xml:space="preserve">1000</text>
<rect x="64.04" y="-32.41" width="14.65" height="15.01" fill="#fff"/>
<rect x="112.88" y="-32.41" width="14.65" height="15.01" fill="#fff"/>
<rect x="161.72" y="-32.41" width="14.65" height="15.01" fill="#fff"/>
</g>
<g transform="translate(874.63 1286.1) scale(1 0.98)"><text style="font-family:'Liberation Mono',monospace;font-size:75px;fill:#262626;letter-spacing:4.35px;stroke:#262626;stroke-width:1.8;stroke-linejoin:round;" xml:space="preserve">2000</text>
<rect x="64.56" y="-32.41" width="14.65" height="15.01" fill="#fff"/>
<rect x="113.92" y="-32.41" width="14.65" height="15.01" fill="#fff"/>
<rect x="163.28" y="-32.41" width="14.65" height="15.01" fill="#fff"/>
</g>
<g transform="translate(1303.21 1286.1) scale(1 0.98)"><text style="font-family:'Liberation Mono',monospace;font-size:75px;fill:#262626;letter-spacing:3.99px;stroke:#262626;stroke-width:1.8;stroke-linejoin:round;" xml:space="preserve">3000</text>
<rect x="64.2" y="-32.41" width="14.65" height="15.01" fill="#fff"/>
<rect x="113.19" y="-32.41" width="14.65" height="15.01" fill="#fff"/>
<rect x="162.19" y="-32.41" width="14.65" height="15.01" fill="#fff"/>
</g>
<g transform="translate(1731.13 1286.1) scale(1 0.98)"><text style="font-family:'Liberation Mono',monospace;font-size:75px;fill:#262626;letter-spacing:3.29px;stroke:#262626;stroke-width:1.8;stroke-linejoin:round;" xml:space="preserve">4000</text>
<rect x="63.49" y="-32.41" width="14.65" height="15.01" fill="#fff"/>
<rect x="111.78" y="-32.41" width="14.65" height="15.01" fill="#fff"/>
<rect x="160.08" y="-32.41" width="14.65" height="15.01" fill="#fff"/>
</g>
<g transform="translate(2156.61 1286.1) scale(1 0.98)"><text style="font-family:'Liberation Mono',monospace;font-size:75px;fill:#262626;letter-spacing:3.02px;stroke:#262626;stroke-width:1.8;stroke-linejoin:round;" xml:space="preserve">5000</text>
<rect x="63.23" y="-32.41" width="14.65" height="15.01" fill="#fff"/>
<rect x="111.26" y="-32.41" width="14.65" height="15.01" fill="#fff"/>
<rect x="159.29" y="-32.41" width="14.65" height="15.01" fill="#fff"/>
</g>
<g transform="translate(1256.65 1386.6) scale(1 0.8)"><text style="font-family:'Liberation Mono',monospace;font-size:91.7px;fill:#262626;letter-spacing:0px;stroke:#262626;stroke-width:3;stroke-linejoin:round;" xml:space="preserve">N</text>
</g>
<g transform="translate(86.1 812.25) rotate(-90) scale(1 0.8)"><text style="font-family:'Liberation Mono',monospace;font-size:91.7px;fill:#262626;letter-spacing:0px;stroke:#262626;stroke-width:3;stroke-linejoin:round;" xml:space="preserve">RMSE<tspan dx="4.8">(</tspan><tspan dx="-8.7">°</tspan><tspan dx="-12">)</tspan></text>
</g>
<g transform="translate(162.18 1713.1) scale(1 0.98)"><text style="font-family:'Liberation Mono',monospace;font-size:75px;fill:#262626;letter-spacing:2.22px;stroke:#262626;stroke-width:1.8;stroke-linejoin:round;" xml:space="preserve">10</text>
<rect x="62.42" y="-32.41" width="14.65" height="15.01" fill="#fff"/>
</g>
<g transform="translate(253.73 1673.15) scale(1 0.98)"><text style="font-family:'Liberation Mono',monospace;font-size:60px;fill:#262626;letter-spacing:0px;stroke:#262626;stroke-width:1.5;stroke-linejoin:round;" xml:space="preserve">2</text>
</g>
<g transform="translate(162.18 1990.4) scale(1 0.98)"><text style="font-family:'Liberation Mono',monospace;font-size:75px;fill:#262626;letter-spacing:2.22px;stroke:#262626;stroke-width:1.8;stroke-linejoin:round;" xml:space="preserve">10</text>
<rect x="62.42" y="-32.41" width="14.65" height="15.01" fill="#fff"/>
</g>
<g transform="translate(255.11 1949.75) scale(1 0.98)"><text style="font-family:'Liberation Mono',monospace;font-size:60px;fill:#262626;letter-spacing:0px;stroke:#262626;stroke-width:1.5;stroke-linejoin:round;" xml:space="preserve">1</text>
</g>
<g transform="translate(162.38 2265.9) scale(1 0.98)"><text style="font-family:'Liberation Mono',monospace;font-size:75px;fill:#262626;letter-spacing:0.92px;stroke:#262626;stroke-width:1.8;stroke-linejoin:round;" xml:space="preserve">10</text>
<rect x="61.12" y="-32.41" width="14.65" height="15.01" fill="#fff"/>
</g>
<g transform="translate(255.32 2226.65) scale(1 0.98)"><text style="font-family:'Liberation Mono',monospace;font-size:60px;fill:#262626;letter-spacing:0px;stroke:#262626;stroke-width:1.5;stroke-linejoin:round;" xml:space="preserve">0</text>
<rect x="12.16" y="-25.93" width="11.72" height="12.01" fill="#fff"/>
</g>
<g transform="translate(129.08 2543.3) scale(1 0.98)"><text style="font-family:'Liberation Mono',monospace;font-size:75px;fill:#262626;letter-spacing:1.32px;stroke:#262626;stroke-width:1.8;stroke-linejoin:round;" xml:space="preserve">10</text>
<rect x="61.52" y="-32.41" width="14.65" height="15.01" fill="#fff"/>
</g>
<g transform="translate(220.32 2503.35) scale(1 0.98)"><text style="font-family:'Liberation Mono',monospace;font-size:60px;fill:#262626;letter-spacing:0.72px;stroke:#262626;stroke-width:1.5;stroke-linejoin:round;" xml:space="preserve">−1</text>
</g>
<g transform="translate(129.78 2819.8) scale(1 0.98)"><text style="font-family:'Liberation Mono',monospace;font-size:75px;fill:#262626;letter-spacing:1.12px;stroke:#262626;stroke-width:1.8;stroke-linejoin:round;" xml:space="preserve">10</text>
<rect x="61.32" y="-32.41" width="14.65" height="15.01" fill="#fff"/>
</g>
<g transform="translate(221.02 2781.05) scale(1 0.98)"><text style="font-family:'Liberation Mono',monospace;font-size:60px;fill:#262626;letter-spacing:0.86px;stroke:#262626;stroke-width:1.5;stroke-linejoin:round;" xml:space="preserve">−2</text>
</g>
<g transform="translate(467.34 2884.4) scale(1 0.95)"><text style="font-family:'Liberation Mono',monospace;font-size:75px;fill:#262626;letter-spacing:4.3px;stroke:#262626;stroke-width:2.8;stroke-linejoin:round;" xml:space="preserve">−<tspan dx="-4">24</tspan></text>
</g>
<g transform="translate(894.03 2884.4) scale(1 0.95)"><text style="font-family:'Liberation Mono',monospace;font-size:75px;fill:#262626;letter-spacing:4.3px;stroke:#262626;stroke-width:2.8;stroke-linejoin:round;" xml:space="preserve">−<tspan dx="-4">22</tspan></text>
</g>
<g transform="translate(1320.72 2884.4) scale(1 0.95)"><text style="font-family:'Liberation Mono',monospace;font-size:75px;fill:#262626;letter-spacing:4.3px;stroke:#262626;stroke-width:2.8;stroke-linejoin:round;" xml:space="preserve">−<tspan dx="-4">20</tspan></text>
<rect x="109.81" y="-32.41" width="14.65" height="15.01" fill="#fff"/>
</g>
<g transform="translate(1747.41 2884.4) scale(1 0.95)"><text style="font-family:'Liberation Mono',monospace;font-size:75px;fill:#262626;letter-spacing:4.3px;stroke:#262626;stroke-width:2.8;stroke-linejoin:round;" xml:space="preserve">−<tspan dx="-4">18</tspan></text>
</g>
<g transform="translate(2174.1 2884.4) scale(1 0.95)"><text style="font-family:'Liberation Mono',monospace;font-size:75px;fill:#262626;letter-spacing:4.3px;stroke:#262626;stroke-width:2.8;stroke-linejoin:round;" xml:space="preserve">−<tspan dx="-4">16</tspan></text>
</g>
<g transform="translate(1064.46 2999.8) scale(1 0.8)"><text style="font-family:'Liberation Mono',monospace;font-size:91.7px;fill:#262626;letter-spacing:-4.4px;stroke:#262626;stroke-width:3;stroke-linejoin:round;" xml:space="preserve">S<tspan dx="-2.5">N</tspan><tspan dx="-1">R</tspan><tspan dx="4.5">s</tspan><tspan dx="-2.5">p</tspan><tspan dx="12">(</tspan><tspan dx="-2.5">d</tspan><tspan dx="-4.4">B</tspan><tspan dx="-1.5">)</tspan></text>
</g>
<g transform="translate(90.7 2423.65) rotate(-90) scale(1 0.8)"><text style="font-family:'Liberation Mono',monospace;font-size:90.42px;fill:#262626;letter-spacing:0px;stroke:#262626;stroke-width:3;stroke-linejoin:round;" xml:space="preserve">RMSE<tspan dx="4.7">(</tspan><tspan dx="-8.6">°</tspan><tspan dx="-12">)</tspan></text>
</g>
<text transform="translate(1210.7 1518.5) scale(0.93 1)" style="font-family:'Liberation Serif',serif;font-size:77px;fill:#000">(<tspan style="font-weight:bold">a</tspan>)</text>
<text transform="translate(1201.9 3126) scale(0.97 1)" style="font-family:'Liberation Serif',serif;font-size:77px;fill:#000">(<tspan style="font-weight:bold">b</tspan>)</text>
</svg></body></html>
